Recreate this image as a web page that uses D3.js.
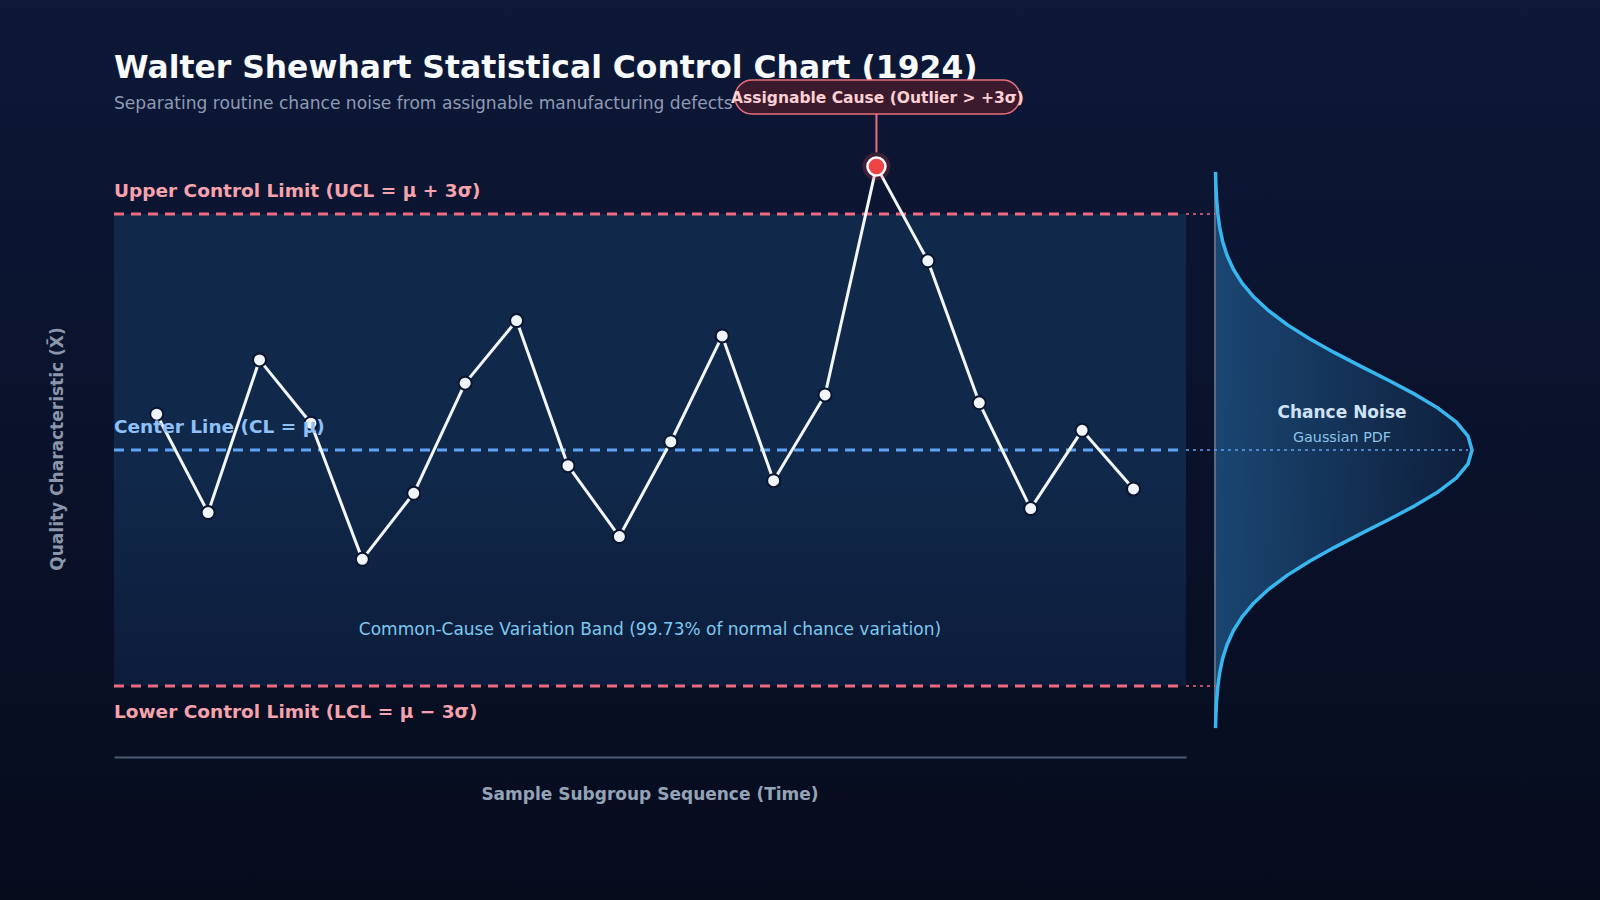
<!DOCTYPE html>
<html>
<head>
<meta charset="utf-8">
<title>Shewhart Control Chart</title>
<script src="https://cdnjs.cloudflare.com/ajax/libs/d3/7.8.5/d3.min.js"></script>
<style>
  html, body { margin: 0; padding: 0; background: #070d1e; }
  svg { display: block; font-family: "DejaVu Sans", sans-serif; }
</style>
</head>
<body>
<div id="chart"></div>
<script>
// process parameters
const mu = 50.0;
const sigma = 2.0;

// subgroup sequence and measured means
const subgroups = [1, 2, 3, 4, 5, 6, 7, 8, 9, 10, 11, 12, 13, 14, 15, 16, 17, 18, 19, 20];
const means = [50.91, 48.41, 52.29, 50.68, 47.22, 48.90, 51.70, 53.29, 49.60, 47.80,
               50.21, 52.90, 49.22, 51.40, 57.21, 54.81, 51.20, 48.51, 50.50, 49.01];
const outlierIndex = 14;

const width = 1600, height = 900;
const left = 114, right = 1186;

const svg = d3.select("#chart").append("svg")
    .attr("width", width)
    .attr("height", height);

const defs = svg.append("defs");

const bg = defs.append("linearGradient").attr("id", "bg")
    .attr("x1", 0).attr("y1", 0).attr("x2", 0).attr("y2", 1);
bg.append("stop").attr("offset", "0%").attr("stop-color", "#0d1838");
bg.append("stop").attr("offset", "100%").attr("stop-color", "#070c1d");

const band = defs.append("linearGradient").attr("id", "band")
    .attr("x1", 0).attr("y1", 0).attr("x2", 0).attr("y2", 1);
band.append("stop").attr("offset", "0%").attr("stop-color", "#10294b");
band.append("stop").attr("offset", "55%").attr("stop-color", "#10284a");
band.append("stop").attr("offset", "100%").attr("stop-color", "#0d1c3b");

const pdfFill = defs.append("linearGradient").attr("id", "pdfFill")
    .attr("x1", 0).attr("y1", 0).attr("x2", 1).attr("y2", 0);
pdfFill.append("stop").attr("offset", "0%").attr("stop-color", "#1d4f7e").attr("stop-opacity", 0.85);
pdfFill.append("stop").attr("offset", "100%").attr("stop-color", "#1d4f7e").attr("stop-opacity", 0.2);

svg.append("rect").attr("width", width).attr("height", height).attr("fill", "url(#bg)");

// scales
const x = d3.scaleLinear().domain([1, 20]).range([156.7, 1133.5]);
const y = d3.scaleLinear().domain([mu - 3 * sigma, mu + 3 * sigma]).range([686, 214]);

const ucl = mu + 3 * sigma, lcl = mu - 3 * sigma;

// common cause band
svg.append("rect")
    .attr("x", left).attr("y", y(ucl))
    .attr("width", right - left).attr("height", y(lcl) - y(ucl))
    .attr("fill", "url(#band)");

// gaussian side panel
const pdfX0 = 1215, pdfX1 = 1472;
const zMax = 3.535;
const density = v => Math.exp(-0.5 * ((v - mu) / sigma) ** 2) / (sigma * Math.sqrt(2 * Math.PI));
const xd = d3.scaleLinear().domain([0, density(mu)]).range([pdfX0, pdfX1]);
const pdfVals = d3.range(41).map(i => mu - zMax * sigma + i * (2 * zMax * sigma) / 40);

svg.append("path")
    .datum(pdfVals)
    .attr("d", d3.area().y(v => y(v)).x0(pdfX0).x1(v => xd(density(v))))
    .attr("fill", "url(#pdfFill)");

svg.append("line")
    .attr("x1", pdfX0).attr("x2", pdfX0)
    .attr("y1", y(mu + zMax * sigma)).attr("y2", y(mu - zMax * sigma))
    .attr("stroke", "#5b6b85").attr("stroke-width", 2);

// limit lines
const limits = [
  { v: ucl, color: "#f06b80" },
  { v: mu, color: "#5fa3f5" },
  { v: lcl, color: "#f06b80" }
];
limits.forEach(l => {
  svg.append("line")
      .attr("x1", left).attr("x2", right - 3)
      .attr("y1", y(l.v)).attr("y2", y(l.v))
      .attr("stroke", l.color).attr("stroke-width", 3)
      .attr("stroke-dasharray", "10,7");
  svg.append("line")
      .attr("x1", right).attr("x2", l.v === mu ? pdfX1 - 4 : pdfX0)
      .attr("y1", y(l.v)).attr("y2", y(l.v))
      .attr("stroke", l.color).attr("stroke-width", 1.6)
      .attr("stroke-dasharray", "3,4");
});

svg.append("path")
    .datum(pdfVals)
    .attr("d", d3.line().y(v => y(v)).x(v => xd(density(v))))
    .attr("fill", "none")
    .attr("stroke", "#38b6f0").attr("stroke-width", 3.5)
    .attr("stroke-linejoin", "round");

svg.append("text").attr("x", 1342).attr("y", 418)
    .attr("text-anchor", "middle").attr("font-size", 17).attr("font-weight", "bold")
    .attr("fill", "#cfe2f5").text("Chance Noise");
svg.append("text").attr("x", 1342).attr("y", 442)
    .attr("text-anchor", "middle").attr("font-size", 14.3)
    .attr("fill", "#8cc4ea").text("Gaussian PDF");

// x axis (no ticks)
const xAxis = svg.append("g")
    .attr("transform", "translate(0,757)")
    .call(d3.axisBottom(d3.scaleLinear().domain([0, 1]).range([left, right])).tickValues([]).tickSizeOuter(0));
xAxis.select(".domain").attr("stroke", "#4a5a73").attr("stroke-width", 2);

svg.append("text").attr("x", (left + right) / 2).attr("y", 800)
    .attr("text-anchor", "middle").attr("font-size", 17).attr("font-weight", "bold")
    .attr("fill", "#94a3b8").text("Sample Subgroup Sequence (Time)");

svg.append("text")
    .attr("transform", "translate(63,449) rotate(-90)")
    .attr("text-anchor", "middle").attr("font-size", 17).attr("font-weight", "bold")
    .attr("fill", "#8a97ab").text("Quality Characteristic (X̄)");

svg.append("text").attr("x", (left + right) / 2).attr("y", 635)
    .attr("text-anchor", "middle").attr("font-size", 17).attr("fill", "#7cc9ef")
    .text("Common-Cause Variation Band (99.73% of normal chance variation)");

// data line
const pts = subgroups.map((s, i) => ({ s, v: means[i], i }));
svg.append("path")
    .datum(pts)
    .attr("d", d3.line().x(d => x(d.s)).y(d => y(d.v)))
    .attr("fill", "none").attr("stroke", "#f4f7fb").attr("stroke-width", 3)
    .attr("stroke-linejoin", "round");

svg.selectAll("circle.pt")
    .data(pts.filter(d => d.i !== outlierIndex))
    .enter().append("circle")
    .attr("class", "pt")
    .attr("cx", d => x(d.s)).attr("cy", d => y(d.v))
    .attr("r", 6.5)
    .attr("fill", "#f1f5f9").attr("stroke", "#0a1530").attr("stroke-width", 2);

// limit labels
svg.append("text").attr("x", left).attr("y", 196.5)
    .attr("font-size", 18.5).attr("font-weight", "bold").attr("fill", "#f6a3ad")
    .text("Upper Control Limit (UCL = μ + 3σ)");
svg.append("text").attr("x", left).attr("y", 433)
    .attr("font-size", 18.5).attr("font-weight", "bold").attr("fill", "#8fc0f8")
    .text("Center Line (CL = μ)");
svg.append("text").attr("x", left).attr("y", 718)
    .attr("font-size", 18.5).attr("font-weight", "bold").attr("fill", "#f6a3ad")
    .text("Lower Control Limit (LCL = μ − 3σ)");

// outlier and annotation
const o = pts[outlierIndex];
const ox = x(o.s), oy = y(o.v);
svg.append("line").attr("x1", ox).attr("x2", ox).attr("y1", 114).attr("y2", oy - 14)
    .attr("stroke", "#ef6f7a").attr("stroke-width", 2);
svg.append("circle").attr("cx", ox).attr("cy", oy).attr("r", 14)
    .attr("fill", "#ef4444").attr("fill-opacity", 0.22);
svg.append("circle").attr("cx", ox).attr("cy", oy).attr("r", 9)
    .attr("fill", "#ef4444").attr("stroke", "#f8fafc").attr("stroke-width", 2.5);

// titles
svg.append("text").attr("x", left).attr("y", 78)
    .attr("font-size", 31.4).attr("font-weight", "bold").attr("fill", "#f8fafc")
    .text("Walter Shewhart Statistical Control Chart (1924)");
svg.append("text").attr("x", left).attr("y", 109)
    .attr("font-size", 17.1).attr("fill", "#8d9bb3")
    .text("Separating routine chance noise from assignable manufacturing defects");

svg.append("rect").attr("x", 735).attr("y", 80).attr("width", 285).attr("height", 34)
    .attr("rx", 17)
    .attr("fill", "#3b1a2e").attr("stroke", "#e8707c").attr("stroke-width", 1.5);
svg.append("text").attr("x", 877.5).attr("y", 103)
    .attr("text-anchor", "middle").attr("font-size", 15.5).attr("font-weight", "bold")
    .attr("fill", "#fcd0d3").text("Assignable Cause (Outlier > +3σ)");
</script>
</body>
</html>
